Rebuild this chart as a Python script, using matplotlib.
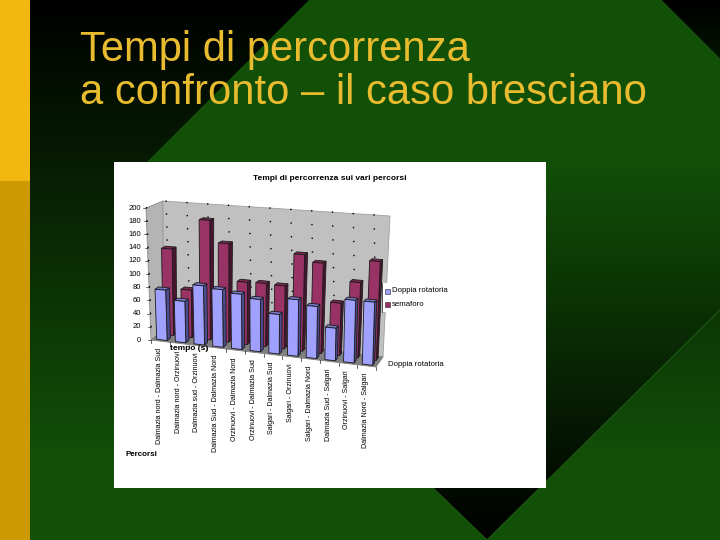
import numpy as np
import matplotlib
matplotlib.use('Agg')
import matplotlib.pyplot as plt
from matplotlib.patches import Polygon, Rectangle
from matplotlib.colors import LinearSegmentedColormap

plt.rcParams['font.family'] = ['Liberation Sans', 'DejaVu Sans']

percorsi = ['Dalmazia nord - Dalmazia Sud', 'Dalmazia nord - Orzinuovi', 'Dalmazia sud - Orzinuovi',
            'Dalmazia Sud - Dalmazia Nord', 'Orzinuovi - Dalmazia Nord', 'Orzinuovi - Dalmazia Sud',
            'Salgari - Dalmazia Sud', 'Salgari - Orzinuovi', 'Salgari - Dalmazia Nord',
            'Dalmazia Sud - Salgari', 'Orzinuovi - Salgari', 'Dalmazia Nord - Salgari']
doppia_rotatoria = [76, 62, 88, 85, 81, 76, 57, 81, 74, 46, 88, 88]
semaforo = [132, 72, 180, 147, 92, 93, 92, 140, 130, 75, 107, 139]
y_ticks = [0, 20, 40, 60, 80, 100, 120, 140, 160, 180, 200]

GREEN = '#125008'


def proj(u, d, v):
    # chart coordinates (route, depth, seconds) to slide pixels
    t = u / len(percorsi)
    x = 151 + 225 * t + d * (13 - 6 * t)
    y = 340 + 27 * t - d * 10
    scale = 0.66 + 0.06 * t - d * 0.015
    lean = (-5 + 9 * t) + d * (4 - 1 * t)
    return x + v / 200 * lean, y - v * scale


def face(ax, pts, color, z, ec='#1a1a1a', lw=0.6):
    ax.add_patch(Polygon(pts, closed=True, fc=color, ec=ec, lw=lw, zorder=z))


def bar(ax, i, value, d0, d1, front, side, top, z):
    u0, u1 = i + 0.22, i + 0.78
    face(ax, [proj(u1, d0, 0), proj(u1, d1, 0), proj(u1, d1, value), proj(u1, d0, value)], side, z)
    face(ax, [proj(u0, d0, value), proj(u1, d0, value), proj(u1, d1, value), proj(u0, d1, value)], top, z)
    face(ax, [proj(u0, d0, 0), proj(u1, d0, 0), proj(u1, d0, value), proj(u0, d0, value)], front, z)


fig = plt.figure(figsize=(7.2, 5.4), dpi=100)
ax = fig.add_axes([0, 0, 1, 1])

# slide background
down = LinearSegmentedColormap.from_list('down', ['#000000', GREEN])
up = LinearSegmentedColormap.from_list('up', [GREEN, '#000000'])
grad = np.linspace(0, 1, 256).reshape(-1, 1)
ax.imshow(grad, cmap=down, extent=(30, 720, 460, 0), aspect='auto', zorder=0)
ax.add_patch(Rectangle((30, 460), 690, 80, fc=GREEN, ec='none', zorder=0))
ax.add_patch(Polygon([(309, 0), (662, 0), (720, 58), (720, 310), (487, 540), (120, 540), (120, 300), (147, 162)],
                     fc=GREEN, ec='none', zorder=1))
wedge = Polygon([(500, 160), (720, 160), (720, 310), (487, 540), (433, 488), (500, 488)],
                fc='none', ec='none', transform=ax.transData)
ax.add_patch(wedge)
im = ax.imshow(grad, cmap=up, extent=(400, 720, 540, 160), aspect='auto', zorder=2)
im.set_clip_path(wedge)
ax.plot([720, 487, 433], [310, 540, 488], color='#1d5a14', lw=0.8, zorder=2)
corner = Polygon([(662, 0), (720, 0), (720, 58)], fc='none', ec='none', transform=ax.transData)
ax.add_patch(corner)
im2 = ax.imshow(grad, cmap=down, extent=(660, 720, 60, 0), aspect='auto', zorder=2, vmin=0, vmax=4)
im2.set_clip_path(corner)

ax.add_patch(Rectangle((0, 0), 30, 181, fc='#F2B711', ec='none', zorder=3))
ax.add_patch(Rectangle((0, 181), 30, 359, fc='#CC9900', ec='none', zorder=3))

ax.text(80, 61, 'Tempi di percorrenza', color='#E8BC2E', fontsize=30.1, zorder=5)
ax.text(80, 104, 'a confronto \u2013 il caso bresciano', color='#E8BC2E', fontsize=30.1, zorder=5)

# chart area
ax.add_patch(Rectangle((114, 162), 432, 326, fc='white', ec='none', zorder=4))
ax.text(330, 178, 'Tempi di percorrenza sui vari percorsi', fontsize=6, fontweight='bold',
        ha='center', va='center', zorder=6)

n = len(percorsi)
zc = 5
face(ax, [proj(0, 0, 0), proj(0, 1, 0), proj(0, 1, 200), proj(0, 0, 200)], '#B4B4B4', zc, ec='#8a8a8a')
face(ax, [proj(0, 1, 0), proj(n, 1, 0), proj(n, 1, 200), proj(0, 1, 200)], '#C0C0C0', zc, ec='#a0a0a0')
face(ax, [proj(0, 0, 0), proj(n, 0, 0), proj(n, 1, 0), proj(0, 1, 0)], '#808080', zc, ec='#808080')

for v in y_ticks[1:]:
    x0, y0 = proj(0, 0, v)
    x1, y1 = proj(0, 1, v)
    x2, y2 = proj(n, 1, v)
    ax.plot([x0, x1, x2], [y0, y1, y2], color='black', lw=1.0, ls=(0, (1, 14)), zorder=zc + 1)

for v in y_ticks:
    x0, y0 = proj(0, 0, v)
    ax.text(141, y0, str(v), fontsize=5.5, ha='right', va='center', zorder=6)
    ax.plot([x0 - 3, x0], [y0, y0], color='#333333', lw=0.5, zorder=zc)

for i in range(n + 1):
    x0, y0 = proj(i, 0, 0)
    ax.plot([x0, x0], [y0, y0 + 3], color='#222222', lw=0.5, zorder=zc)

for i in range(n):
    bar(ax, i, semaforo[i], 0.62, 0.88, '#993366', '#4A1530', '#7A2850', zc + 2)
for i in range(n):
    bar(ax, i, doppia_rotatoria[i], 0.12, 0.38, '#A0A0FF', '#4C4C90', '#7878C8', zc + 3)

for i, name in enumerate(percorsi):
    x0, y0 = proj(i + 0.5, 0, 0)
    ax.text(x0 - 1, y0 + 7, name, rotation=90, fontsize=5.1, ha='center', va='top', zorder=zc + 4)

ax.text(170, 348, 'tempo (s)', fontsize=6, fontweight='bold', va='center', zorder=zc + 4)
ax.text(125, 455, 'Percorsi', fontsize=5.8, fontweight='bold', va='center', zorder=zc + 4)
ax.text(388, 364, 'Doppia rotatoria', fontsize=5.6, va='center', zorder=zc + 4)

# legend
ax.add_patch(Rectangle((382, 283), 66, 29, fc='white', ec='none', zorder=zc + 4))
ax.plot([382, 382], [283, 312], color='#333333', lw=0.6, zorder=zc + 5)
ax.add_patch(Rectangle((385, 289), 5, 5, fc='#A0A0FF', ec='#222222', lw=0.4, zorder=zc + 5))
ax.add_patch(Rectangle((385, 302), 5, 5, fc='#993366', ec='#222222', lw=0.4, zorder=zc + 5))
ax.text(392, 291, 'Doppia rotatoria', fontsize=5.6, va='center', zorder=zc + 5)
ax.text(392, 304, 'semaforo', fontsize=5.6, va='center', zorder=zc + 5)

ax.set_xlim(0, 720)
ax.set_ylim(540, 0)
ax.axis('off')

fig.savefig('out.png', dpi=100)
